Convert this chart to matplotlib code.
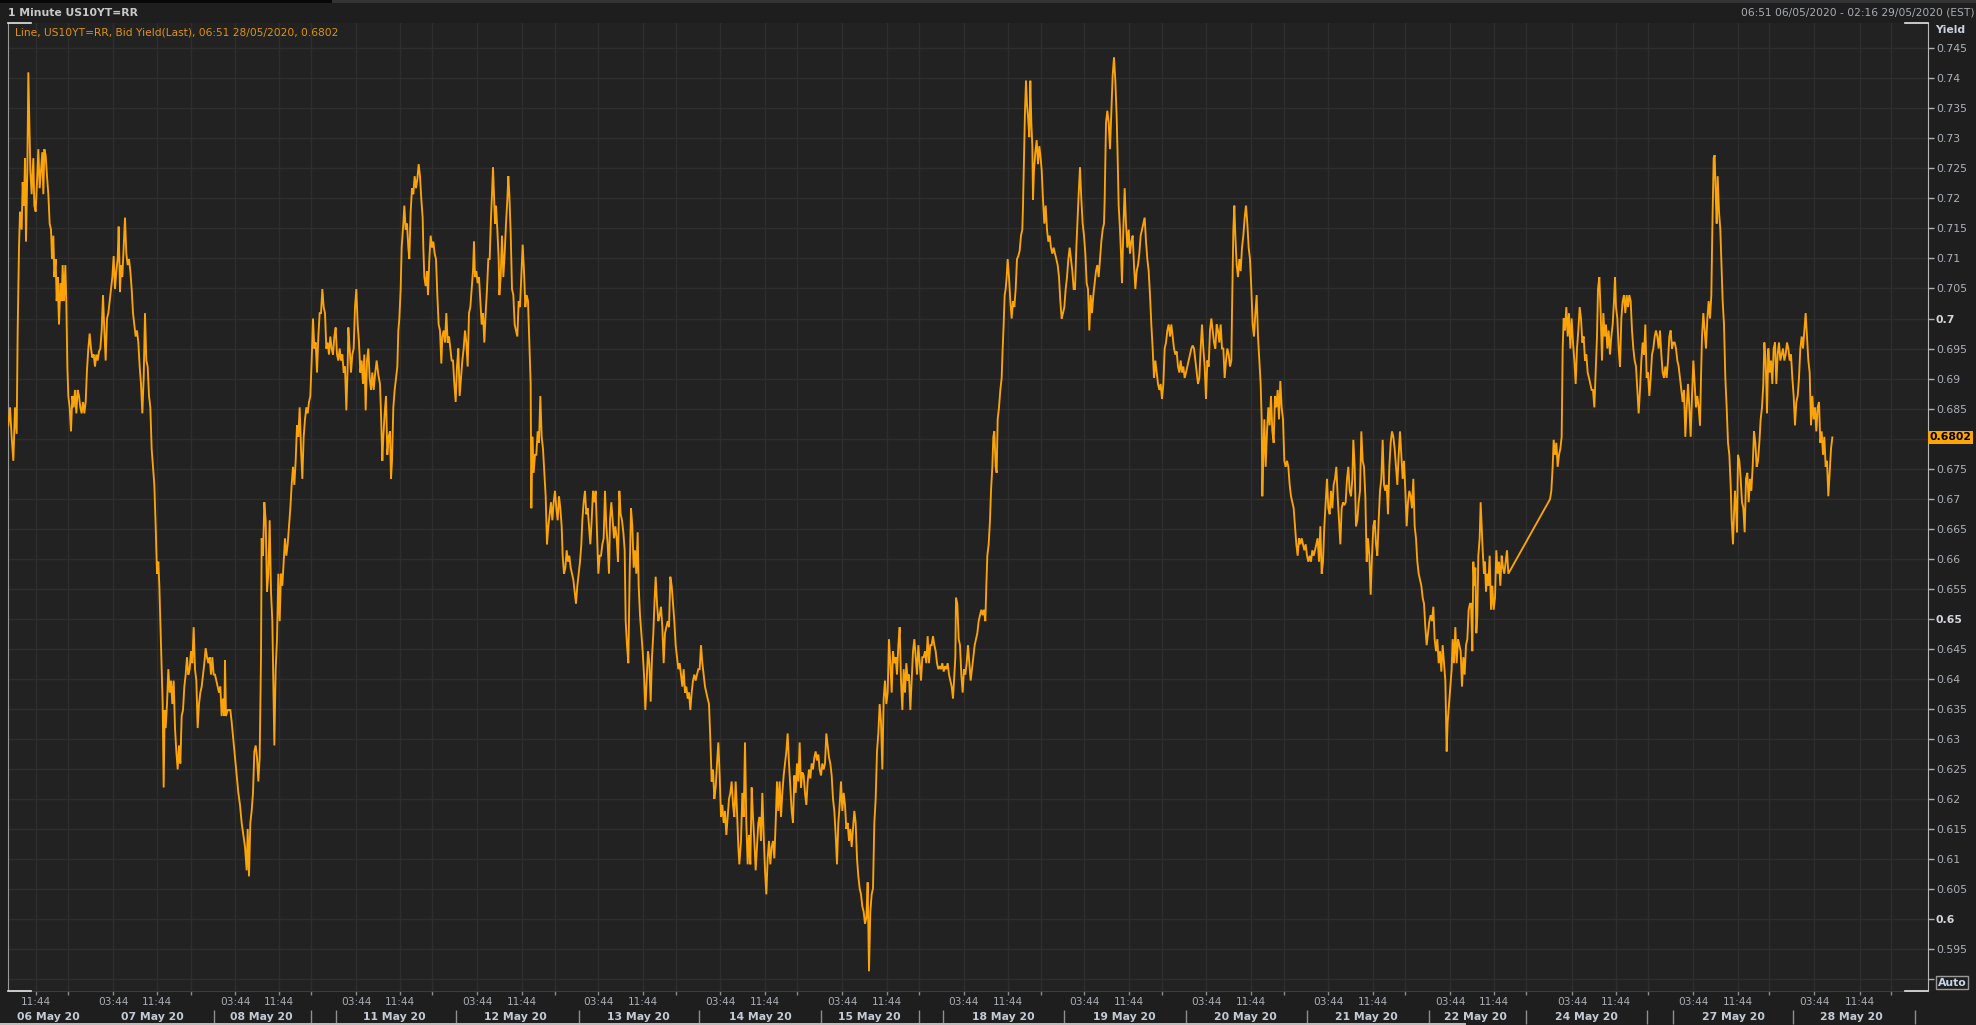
import matplotlib
matplotlib.use("Agg")
import matplotlib.pyplot as plt
import numpy as np
from matplotlib.transforms import blended_transform_factory
from matplotlib.patches import Rectangle

# ---------------- data: (session position, bid yield) ----------------
part_a = [(25,0.6822),(30,0.6852),(35,0.6803),(40,0.6763),(45,0.6852),(50,0.6808),(53,0.6980),(57,0.7118),(60,0.7178),(65,0.7148),(68,0.7227),(72,0.7188),(75,0.7267),(78,0.7128),(82,0.7247),(85,0.7410),(88,0.7326),(91,0.7247),(95,0.7207),(100,0.7267),(103,0.7188),(107,0.7178),(111,0.7227),(115,0.7282),(119,0.7217),(123,0.7247),(127,0.7277),(130,0.7207),(133,0.7282),(137,0.7272),(141,0.7237),(145,0.7207),(149,0.7158),(153,0.7148),(156,0.7099),(160,0.7138),(163,0.7069),(167,0.7099),(170,0.7029),(173,0.7069),(177,0.6990),(181,0.7059),(185,0.7029),(188,0.7089),(192,0.7029),(196,0.7089),(199,0.7029),(202,0.6920),(205,0.6871),(209,0.6852),(213,0.6812),(217,0.6871),(221,0.6852),(225,0.6881),(229,0.6842),(233,0.6881),(237,0.6871),(241,0.6852),(245,0.6842),(249,0.6861),(253,0.6842),(257,0.6861),(261,0.6915),(265,0.6950),(269,0.6975),(273,0.6950),(277,0.6935),(281,0.6940),(285,0.6920),(289,0.6940),(293,0.6930),(297,0.6945),(301,0.6950),(305,0.6980),(309,0.7039),(313,0.6980),(317,0.6930),(321,0.7000),(325,0.7009),(329,0.7029),(333,0.7049),(337,0.7069),(341,0.7104),(345,0.7049),(349,0.7079),(353,0.7099),(356,0.7153),(360,0.7044),(363,0.7089),(367,0.7069),(371,0.7118),(375,0.7168),(379,0.7108),(383,0.7089),(387,0.7099),(391,0.7079),(395,0.7049),(399,0.7009),(403,0.6990),(407,0.6970),(411,0.6980),(415,0.6960),(419,0.6920),(423,0.6891),(427,0.6842),(431,0.6901),(435,0.7009),(439,0.6930),(443,0.6920),(447,0.6871),(451,0.6852),(455,0.6783),(459,0.6753),(463,0.6723),(467,0.6654),(471,0.6575),(475,0.6595),(478,0.6555),(481,0.6496),(485,0.6416),(488,0.6358),(491,0.6219),(494,0.6348),(497,0.6318),(501,0.6358),(505,0.6416),(509,0.6377),(513,0.6397),(517,0.6358),(521,0.6397),(525,0.6318),(529,0.6279),(533,0.6249),(537,0.6289),(541,0.6259),(545,0.6338),(549,0.6348),(553,0.6387),(557,0.6407),(561,0.6436),(565,0.6407),(569,0.6416),(573,0.6446),(577,0.6426),(581,0.6486),(585,0.6416),(589,0.6397),(593,0.6318),(597,0.6358),(601,0.6377),(605,0.6387),(609,0.6407),(613,0.6426),(617,0.6451),(621,0.6436),(625,0.6426),(629,0.6436),(633,0.6407),(637,0.6436),(641,0.6407),(645,0.6407),(649,0.6397),(653,0.6387),(657,0.6377),(661,0.6387),(665,0.6338),(669,0.6367),(673,0.6338),(675,0.6431),(678,0.6338),(683,0.6348),(691,0.6348),(695,0.6328),(700,0.6299),(705,0.6269),(710,0.6239),(715,0.6210),(720,0.6190),(725,0.6160),(730,0.6140),(735,0.6120),(740,0.6081),(743,0.6150),(747,0.6071),(751,0.6160),(755,0.6180),(759,0.6210),(763,0.6279),(767,0.6289),(771,0.6269),(775,0.6229),(779,0.6269),(783,0.6436),(785,0.6634),(789,0.6605),(793,0.6694),(797,0.6664),(801,0.6545),(805,0.6575),(809,0.6664),(813,0.6545),(817,0.6496),(820,0.6387),(823,0.6289),(827,0.6416),(831,0.6466),(835,0.6575),(839,0.6496),(843,0.6575),(847,0.6555),(851,0.6595),(855,0.6634),(859,0.6605),(863,0.6624),(867,0.6654),(871,0.6684),(875,0.6723),(879,0.6753),(883,0.6723),(887,0.6763),(891,0.6822),(895,0.6803),(899,0.6852),(903,0.6783),(907,0.6733),(911,0.6803),(915,0.6832),(919,0.6852),(923,0.6842),(927,0.6861),(931,0.6871),(935,0.6930),(939,0.7000),(943,0.6950),(947,0.6960),(951,0.6910),(955,0.6970),(959,0.7009),(963,0.7009),(967,0.7049),(971,0.7019),(975,0.7009),(979,0.6950),(983,0.6960),(987,0.6940),(991,0.6970),(995,0.6950),(999,0.6940),(1003,0.6970),(1007,0.6985),(1011,0.6940),(1015,0.6930),(1019,0.6950),(1023,0.6930),(1027,0.6940),(1031,0.6910),(1035,0.6920),(1039,0.6847),(1043,0.6920),(1045,0.6985),(1049,0.6950),(1053,0.6910),(1057,0.6940),(1061,0.6950),(1065,0.7019),(1069,0.7049),(1073,0.6990),(1077,0.6960),(1081,0.6910),(1085,0.6930),(1089,0.6891),(1093,0.6940),(1097,0.6847),(1101,0.6930),(1105,0.6950),(1109,0.6901),(1113,0.6881),(1117,0.6910),(1121,0.6881),(1125,0.6906)]

part_b = [(1130,0.6930),(1135,0.6906),(1140,0.6891),(1143,0.6842),(1147,0.6763),(1150,0.6803),(1154,0.6842),(1158,0.6871),(1162,0.6773),(1166,0.6803),(1170,0.6812),(1173,0.6733),(1176,0.6763),(1180,0.6852),(1184,0.6881),(1188,0.6901),(1192,0.6920),(1195,0.6980),(1198,0.7000),(1202,0.7049),(1205,0.7118),(1210,0.7158),(1213,0.7188),(1217,0.7148),(1221,0.7158),(1225,0.7118),(1228,0.7099),(1232,0.7178),(1236,0.7217),(1240,0.7207),(1244,0.7237),(1248,0.7217),(1252,0.7232),(1256,0.7257),(1260,0.7237),(1264,0.7198),(1268,0.7168),(1270,0.7118),(1273,0.7069),(1277,0.7054),(1281,0.7079),(1284,0.7039),(1288,0.7099),(1292,0.7138),(1296,0.7118),(1300,0.7128),(1304,0.7108),(1308,0.7099),(1312,0.7039),(1316,0.6990),(1320,0.6980),(1324,0.6925),(1327,0.6970),(1331,0.6980),(1335,0.6960),(1339,0.7009),(1343,0.6960),(1347,0.6970),(1351,0.6950),(1355,0.6930),(1359,0.6930),(1363,0.6891),(1367,0.6861),(1371,0.6920),(1375,0.6950),(1379,0.6871),(1383,0.6901),(1387,0.6930),(1391,0.6950),(1395,0.6980),(1399,0.6960),(1403,0.6920),(1407,0.7009),(1411,0.7019),(1415,0.7049),(1419,0.7079),(1422,0.7128),(1425,0.7069),(1429,0.7079),(1433,0.7059),(1437,0.7069),(1441,0.7029),(1445,0.6990),(1449,0.7009),(1453,0.6960),(1457,0.7009),(1461,0.7049),(1465,0.7099),(1469,0.7099),(1473,0.7168),(1476,0.7207),(1479,0.7252),(1482,0.7207),(1485,0.7158),(1488,0.7188),(1492,0.7148),(1496,0.7099),(1498,0.7039),(1502,0.7069),(1506,0.7138),(1510,0.7069),(1514,0.7108),(1518,0.7158),(1522,0.7198),(1525,0.7237),(1528,0.7207),(1532,0.7143),(1536,0.7049),(1540,0.7039),(1544,0.6990),(1548,0.6980),(1552,0.6970),(1556,0.7029),(1560,0.7019),(1564,0.7069),(1568,0.7123),(1572,0.7079),(1576,0.7019),(1580,0.7039),(1584,0.7029),(1588,0.6960),(1592,0.6891),(1594,0.6684),(1597,0.6803),(1601,0.6743),(1605,0.6773),(1609,0.6773),(1613,0.6812),(1617,0.6793),(1621,0.6871),(1625,0.6803),(1629,0.6783),(1633,0.6743),(1637,0.6704),(1641,0.6624),(1645,0.6654),(1649,0.6674),(1653,0.6694),(1657,0.6664),(1661,0.6694),(1665,0.6713),(1669,0.6684),(1673,0.6664),(1677,0.6704),(1681,0.6684),(1685,0.6654),(1688,0.6605),(1692,0.6575),(1696,0.6585),(1700,0.6614),(1704,0.6595),(1708,0.6605),(1712,0.6585),(1716,0.6575),(1720,0.6565),(1724,0.6545),(1728,0.6525),(1732,0.6555),(1736,0.6575),(1740,0.6595),(1744,0.6624),(1747,0.6664),(1751,0.6694),(1755,0.6713),(1759,0.6674),(1763,0.6684),(1767,0.6654),(1771,0.6624),(1775,0.6664),(1779,0.6713),(1783,0.6694),(1787,0.6713),(1791,0.6644),(1795,0.6575),(1799,0.6605),(1803,0.6605),(1807,0.6624),(1811,0.6634),(1815,0.6713),(1819,0.6654),(1823,0.6624),(1827,0.6575),(1830,0.6664),(1834,0.6694),(1838,0.6664),(1842,0.6634),(1846,0.6654),(1850,0.6634),(1854,0.6595),(1858,0.6713),(1862,0.6674),(1866,0.6664),(1870,0.6644),(1874,0.6614),(1877,0.6496),(1881,0.6456),(1885,0.6426),(1889,0.6575),(1893,0.6684),(1897,0.6654),(1901,0.6585),(1905,0.6614),(1909,0.6575),(1913,0.6644),(1916,0.6555),(1920,0.6506),(1924,0.6476),(1928,0.6446),(1932,0.6407),(1936,0.6348),(1940,0.6397),(1944,0.6446),(1948,0.6426),(1952,0.6362),(1956,0.6436),(1960,0.6476),(1964,0.6535),(1967,0.6570),(1971,0.6525),(1975,0.6496),(1979,0.6506),(1983,0.6520),(1987,0.6486),(1991,0.6426),(1995,0.6476),(1999,0.6486),(2003,0.6496),(2007,0.6486),(2011,0.6570),(2015,0.6555),(2019,0.6525),(2023,0.6496),(2027,0.6456),(2031,0.6436),(2035,0.6416),(2039,0.6426),(2043,0.6407),(2047,0.6387),(2051,0.6416),(2055,0.6377),(2059,0.6387),(2063,0.6367),(2067,0.6377),(2071,0.6348),(2075,0.6377),(2079,0.6397),(2083,0.6407),(2087,0.6397),(2091,0.6407),(2095,0.6416),(2099,0.6416),(2103,0.6456),(2107,0.6426),(2111,0.6407),(2115,0.6387),(2119,0.6377),(2123,0.6367),(2127,0.6358),(2131,0.6299),(2135,0.6229),(2139,0.6249),(2143,0.6200),(2147,0.6219),(2151,0.6259),(2155,0.6294),(2159,0.6239),(2163,0.6170),(2167,0.6190),(2171,0.6160),(2175,0.6180),(2179,0.6140),(2183,0.6170),(2187,0.6200),(2191,0.6210),(2195,0.6229),(2199,0.6190),(2203,0.6170),(2207,0.6229),(2211,0.6180),(2215,0.6120),(2218,0.6091)]

part_c = [(2223,0.6130),(2227,0.6210),(2231,0.6170),(2235,0.6294),(2239,0.6160),(2243,0.6091),(2247,0.6140),(2251,0.6091),(2255,0.6219),(2259,0.6170),(2263,0.6130),(2267,0.6081),(2271,0.6120),(2275,0.6160),(2279,0.6170),(2283,0.6130),(2287,0.6210),(2291,0.6140),(2295,0.6081),(2299,0.6041),(2303,0.6101),(2307,0.6130),(2311,0.6091),(2315,0.6120),(2319,0.6130),(2323,0.6101),(2327,0.6160),(2331,0.6229),(2335,0.6180),(2339,0.6229),(2343,0.6170),(2347,0.6210),(2351,0.6239),(2355,0.6259),(2359,0.6279),(2363,0.6309),(2367,0.6259),(2371,0.6219),(2375,0.6180),(2379,0.6160),(2383,0.6239),(2387,0.6210),(2391,0.6259),(2395,0.6229),(2399,0.6294),(2403,0.6219),(2407,0.6244),(2411,0.6239),(2415,0.6210),(2419,0.6190),(2423,0.6229),(2427,0.6249),(2431,0.6234),(2435,0.6259),(2439,0.6249),(2443,0.6269),(2447,0.6279),(2451,0.6264),(2455,0.6274),(2459,0.6249),(2463,0.6239),(2467,0.6259),(2471,0.6249),(2475,0.6259),(2479,0.6309),(2483,0.6289),(2487,0.6269),(2491,0.6259),(2495,0.6239),(2499,0.6200),(2503,0.6180),(2507,0.6140),(2511,0.6091),(2515,0.6160),(2519,0.6190),(2523,0.6229),(2527,0.6180),(2531,0.6210),(2535,0.6190),(2539,0.6150),(2543,0.6160),(2547,0.6130),(2551,0.6150),(2555,0.6120),(2559,0.6150),(2563,0.6180),(2567,0.6160),(2571,0.6101),(2575,0.6071),(2579,0.6051),(2583,0.6041),(2587,0.6021),(2591,0.6012),(2595,0.5992),(2599,0.6002),(2603,0.6061),(2607,0.5913),(2611,0.6012),(2615,0.6041),(2619,0.6051),(2623,0.6160),(2627,0.6200),(2631,0.6279),(2635,0.6309),(2639,0.6358),(2643,0.6328),(2647,0.6249),(2651,0.6367),(2655,0.6397),(2659,0.6358),(2663,0.6377),(2667,0.6466),(2671,0.6426),(2675,0.6377),(2679,0.6446),(2683,0.6426),(2687,0.6436),(2691,0.6407),(2695,0.6456),(2699,0.6486),(2703,0.6397),(2707,0.6348),(2711,0.6416),(2715,0.6377),(2719,0.6426),(2723,0.6397),(2727,0.6407),(2731,0.6348),(2735,0.6397),(2739,0.6446),(2743,0.6466),(2747,0.6436),(2751,0.6407),(2755,0.6456),(2759,0.6426),(2763,0.6397),(2767,0.6436),(2771,0.6436),(2775,0.6446),(2779,0.6426),(2783,0.6471),(2787,0.6426),(2791,0.6456),(2795,0.6456),(2799,0.6471),(2803,0.6456),(2807,0.6446),(2811,0.6426),(2815,0.6416),(2819,0.6421),(2823,0.6416),(2827,0.6426),(2831,0.6412),(2835,0.6421),(2839,0.6416),(2843,0.6426),(2847,0.6407),(2851,0.6397),(2855,0.6387),(2859,0.6367),(2863,0.6407),(2866,0.6436),(2868,0.6535),(2872,0.6525),(2876,0.6466),(2880,0.6456),(2884,0.6407),(2888,0.6377),(2892,0.6416),(2896,0.6407),(2900,0.6426),(2904,0.6456),(2908,0.6426),(2912,0.6397),(2916,0.6416),(2920,0.6436),(2924,0.6456),(2928,0.6466),(2932,0.6476),(2936,0.6496),(2940,0.6506),(2944,0.6515),(2948,0.6506),(2952,0.6515),(2956,0.6496),(2959,0.6555),(2962,0.6605),(2966,0.6624),(2970,0.6664),(2973,0.6713),(2977,0.6753),(2980,0.6803),(2983,0.6812),(2987,0.6753),(2990,0.6743),(2993,0.6832),(2997,0.6852),(3001,0.6881),(3005,0.6901),(3008,0.6950),(3011,0.6990),(3014,0.7039),(3017,0.7049),(3020,0.7069),(3023,0.7099),(3027,0.7069),(3031,0.7029),(3035,0.7000),(3039,0.7029),(3043,0.7019),(3047,0.7049),(3051,0.7099),(3055,0.7104),(3059,0.7113),(3063,0.7138),(3067,0.7148),(3069,0.7188),(3072,0.7267),(3075,0.7346),(3078,0.7396),(3081,0.7356),(3084,0.7336),(3088,0.7302),(3091,0.7396),(3094,0.7326),(3097,0.7287),(3099,0.7198),(3102,0.7247),(3106,0.7277),(3110,0.7297),(3114,0.7257),(3118,0.7287),(3122,0.7267),(3125,0.7247),(3129,0.7198),(3133,0.7158),(3137,0.7188),(3141,0.7148),(3145,0.7128),(3149,0.7138),(3153,0.7118),(3157,0.7108),(3161,0.7118),(3165,0.7108),(3169,0.7099),(3173,0.7089),(3177,0.7069),(3181,0.7029),(3185,0.7000),(3189,0.7009),(3193,0.7019),(3197,0.7049),(3201,0.7069),(3205,0.7099),(3209,0.7118),(3213,0.7099),(3217,0.7079),(3221,0.7049),(3225,0.7049),(3229,0.7118),(3232,0.7158),(3236,0.7207),(3240,0.7252),(3244,0.7198),(3248,0.7158),(3252,0.7138),(3256,0.7108),(3260,0.7059),(3264,0.7049),(3268,0.6980),(3272,0.7039),(3276,0.7009),(3280,0.7039),(3284,0.7059),(3288,0.7079),(3292,0.7089),(3296,0.7069),(3300,0.7099),(3304,0.7128),(3308,0.7148),(3312,0.7158)]

part_d = [(3314,0.7198),(3318,0.7326),(3322,0.7346),(3326,0.7326),(3330,0.7282),(3334,0.7346),(3338,0.7405),(3342,0.7435),(3346,0.7396),(3350,0.7336),(3353,0.7267),(3356,0.7188),(3360,0.7148),(3363,0.7108),(3366,0.7059),(3370,0.7148),(3374,0.7217),(3378,0.7158),(3382,0.7118),(3386,0.7148),(3390,0.7108),(3394,0.7128),(3398,0.7138),(3402,0.7089),(3406,0.7049),(3410,0.7079),(3414,0.7089),(3418,0.7108),(3422,0.7138),(3426,0.7148),(3430,0.7158),(3434,0.7168),(3438,0.7128),(3442,0.7099),(3446,0.7079),(3450,0.7039),(3454,0.6990),(3458,0.6950),(3462,0.6901),(3466,0.6930),(3470,0.6910),(3474,0.6891),(3478,0.6881),(3482,0.6891),(3486,0.6866),(3490,0.6891),(3494,0.6950),(3498,0.6960),(3502,0.6980),(3506,0.6990),(3510,0.6970),(3514,0.6990),(3518,0.6970),(3522,0.6950),(3526,0.6940),(3530,0.6945),(3534,0.6920),(3538,0.6910),(3542,0.6930),(3546,0.6910),(3550,0.6920),(3554,0.6901),(3558,0.6910),(3562,0.6920),(3566,0.6930),(3570,0.6940),(3574,0.6950),(3578,0.6955),(3582,0.6950),(3586,0.6930),(3590,0.6910),(3594,0.6891),(3598,0.6901),(3602,0.6950),(3606,0.6990),(3610,0.6950),(3614,0.6920),(3618,0.6866),(3622,0.6930),(3626,0.6920),(3630,0.6980),(3634,0.7000),(3638,0.6980),(3642,0.6960),(3646,0.6950),(3650,0.6990),(3654,0.6980),(3658,0.6960),(3662,0.6990),(3666,0.6950),(3670,0.6950),(3674,0.6901),(3678,0.6930),(3682,0.6950),(3686,0.6940),(3690,0.6920),(3694,0.6930),(3696,0.7009),(3700,0.7148),(3703,0.7188),(3706,0.7138),(3710,0.7089),(3714,0.7069),(3718,0.7099),(3722,0.7079),(3726,0.7118),(3730,0.7138),(3734,0.7168),(3738,0.7188),(3742,0.7158),(3746,0.7118),(3750,0.7099),(3754,0.7049),(3758,0.6990),(3762,0.6970),(3766,0.7009),(3770,0.7039),(3774,0.6970),(3778,0.6930),(3782,0.6891),(3785,0.6832),(3787,0.6704),(3790,0.6773),(3793,0.6832),(3797,0.6753),(3801,0.6812),(3805,0.6852),(3809,0.6822),(3813,0.6871),(3817,0.6812),(3821,0.6793),(3825,0.6871),(3829,0.6852),(3833,0.6881),(3837,0.6832),(3841,0.6896),(3845,0.6852),(3849,0.6832),(3853,0.6763),(3857,0.6753),(3861,0.6763),(3865,0.6753),(3869,0.6723),(3873,0.6704),(3877,0.6694),(3881,0.6684),(3885,0.6654),(3889,0.6624),(3893,0.6605),(3897,0.6634),(3901,0.6624),(3905,0.6634),(3909,0.6624),(3913,0.6614),(3917,0.6624),(3921,0.6605),(3925,0.6595),(3929,0.6605),(3933,0.6595),(3937,0.6614),(3941,0.6605),(3945,0.6614),(3949,0.6624),(3953,0.6634),(3957,0.6595),(3961,0.6654),(3965,0.6575),(3969,0.6595),(3973,0.6654),(3977,0.6694),(3981,0.6733),(3985,0.6684),(3989,0.6674),(3993,0.6713),(3997,0.6684),(4001,0.6723),(4005,0.6733),(4009,0.6753),(4013,0.6704),(4017,0.6664),(4021,0.6624),(4025,0.6684),(4029,0.6694),(4033,0.6689),(4037,0.6694),(4041,0.6733),(4045,0.6753),(4049,0.6713),(4053,0.6704),(4057,0.6733),(4060,0.6798),(4064,0.6753),(4068,0.6654),(4072,0.6664),(4076,0.6694),(4080,0.6713),(4084,0.6812),(4088,0.6763),(4092,0.6753),(4096,0.6704),(4100,0.6595),(4104,0.6634),(4108,0.6605),(4112,0.6540),(4116,0.6605),(4120,0.6654),(4124,0.6664),(4128,0.6624),(4132,0.6605),(4136,0.6664),(4140,0.6713),(4144,0.6733),(4148,0.6798),(4152,0.6723),(4156,0.6713),(4160,0.6723),(4164,0.6674),(4168,0.6753),(4172,0.6793),(4176,0.6812),(4180,0.6803),(4184,0.6783),(4188,0.6753),(4192,0.6723),(4196,0.6773),(4200,0.6812),(4204,0.6773),(4208,0.6733),(4212,0.6763),(4216,0.6713),(4220,0.6654),(4224,0.6694),(4228,0.6713),(4232,0.6704),(4236,0.6684),(4240,0.6733),(4244,0.6654),(4248,0.6634),(4252,0.6595),(4256,0.6575),(4260,0.6565),(4264,0.6555),(4268,0.6535),(4272,0.6525),(4276,0.6486),(4280,0.6456),(4284,0.6476),(4288,0.6496),(4292,0.6506),(4296,0.6496),(4300,0.6520),(4304,0.6466),(4308,0.6446),(4312,0.6466),(4316,0.6426),(4320,0.6446),(4324,0.6412),(4328,0.6456),(4332,0.6426),(4336,0.6397),(4340,0.6279),(4343,0.6328),(4347,0.6358),(4351,0.6387),(4355,0.6416),(4358,0.6466),(4362,0.6426),(4366,0.6486),(4370,0.6426),(4374,0.6466),(4378,0.6456),(4382,0.6446),(4386,0.6387),(4390,0.6436),(4394,0.6407),(4398,0.6456),(4402,0.6466),(4406,0.6515),(4410,0.6525)]

part_e = [(4413,0.6525),(4417,0.6446),(4420,0.6595),(4423,0.6555),(4426,0.6585),(4429,0.6476),(4432,0.6506),(4435,0.6605),(4439,0.6634),(4442,0.6694),(4445,0.6654),(4448,0.6614),(4452,0.6575),(4455,0.6595),(4458,0.6545),(4462,0.6575),(4465,0.6555),(4469,0.6605),(4473,0.6515),(4477,0.6555),(4481,0.6515),(4485,0.6535),(4489,0.6614),(4493,0.6575),(4497,0.6595),(4501,0.6555),(4505,0.6605),(4509,0.6585),(4513,0.6575),(4517,0.6595),(4521,0.6614),(4525,0.6575),(4650,0.6699),(4654,0.6713),(4658,0.6753),(4661,0.6798),(4665,0.6773),(4669,0.6793),(4673,0.6753),(4677,0.6773),(4681,0.6783),(4685,0.6803),(4688,0.6950),(4691,0.7000),(4695,0.6980),(4699,0.7019),(4703,0.6970),(4707,0.7009),(4711,0.6950),(4715,0.7000),(4719,0.6960),(4723,0.6930),(4727,0.6891),(4731,0.6950),(4735,0.6980),(4739,0.7019),(4743,0.7000),(4747,0.6960),(4751,0.6970),(4755,0.6930),(4759,0.6940),(4763,0.6910),(4767,0.6901),(4771,0.6891),(4775,0.6881),(4779,0.6881),(4783,0.6852),(4787,0.6910),(4791,0.6970),(4794,0.7049),(4798,0.7069),(4802,0.7009),(4806,0.6930),(4810,0.7009),(4814,0.6970),(4818,0.6990),(4822,0.6950),(4826,0.6980),(4830,0.6940),(4834,0.6970),(4838,0.6990),(4842,0.7029),(4845,0.7069),(4848,0.7019),(4852,0.7000),(4856,0.6950),(4860,0.6920),(4864,0.7000),(4868,0.7029),(4872,0.7039),(4876,0.7009),(4880,0.7039),(4884,0.7019),(4888,0.7039),(4892,0.7029),(4896,0.6980),(4900,0.6950),(4904,0.6930),(4908,0.6920),(4912,0.6881),(4916,0.6842),(4920,0.6881),(4924,0.6930),(4928,0.6960),(4932,0.6940),(4936,0.6990),(4940,0.6901),(4944,0.6910),(4948,0.6871),(4952,0.6901),(4956,0.6940),(4960,0.6950),(4964,0.6970),(4968,0.6980),(4972,0.6970),(4976,0.6950),(4980,0.6980),(4984,0.6940),(4988,0.6910),(4992,0.6901),(4996,0.6920),(5000,0.6901),(5004,0.6930),(5008,0.6970),(5012,0.6980),(5016,0.6950),(5020,0.6960),(5024,0.6960),(5028,0.6950),(5032,0.6930),(5036,0.6920),(5040,0.6901),(5044,0.6881),(5048,0.6861),(5052,0.6881),(5056,0.6803),(5060,0.6852),(5064,0.6891),(5068,0.6852),(5072,0.6803),(5076,0.6871),(5080,0.6930),(5084,0.6891),(5088,0.6852),(5092,0.6871),(5096,0.6852),(5100,0.6822),(5103,0.6901),(5106,0.6970),(5110,0.7009),(5114,0.6980),(5118,0.6950),(5122,0.7000),(5126,0.7029),(5130,0.7000),(5134,0.7039),(5137,0.7148),(5141,0.7267),(5144,0.7272),(5147,0.7207),(5150,0.7158),(5153,0.7237),(5157,0.7178),(5161,0.7148),(5165,0.7079),(5168,0.7029),(5172,0.6990),(5176,0.6901),(5180,0.6852),(5184,0.6793),(5188,0.6773),(5192,0.6723),(5195,0.6664),(5199,0.6624),(5202,0.6674),(5205,0.6713),(5208,0.6684),(5211,0.6644),(5214,0.6773),(5218,0.6763),(5222,0.6733),(5226,0.6694),(5230,0.6684),(5234,0.6644),(5238,0.6733),(5242,0.6743),(5246,0.6694),(5250,0.6733),(5254,0.6713),(5258,0.6753),(5262,0.6812),(5266,0.6793),(5270,0.6753),(5274,0.6763),(5278,0.6793),(5282,0.6832),(5286,0.6852),(5290,0.6891),(5293,0.6960),(5297,0.6930),(5301,0.6842),(5305,0.6950),(5309,0.6910),(5313,0.6930),(5317,0.6891),(5321,0.6950),(5325,0.6960),(5329,0.6891),(5333,0.6940),(5337,0.6960),(5341,0.6930),(5345,0.6940),(5349,0.6950),(5353,0.6930),(5357,0.6940),(5361,0.6960),(5365,0.6950),(5369,0.6930),(5373,0.6940),(5377,0.6901),(5381,0.6871),(5385,0.6822),(5389,0.6861),(5393,0.6871),(5397,0.6901),(5401,0.6950),(5405,0.6970),(5409,0.6950),(5413,0.6980),(5417,0.7009),(5421,0.6970),(5425,0.6930),(5429,0.6910),(5433,0.6822),(5437,0.6871),(5441,0.6832),(5445,0.6852),(5449,0.6812),(5453,0.6852),(5457,0.6861),(5461,0.6793),(5465,0.6812),(5469,0.6773),(5473,0.6803),(5477,0.6753),(5481,0.6763),(5485,0.6704),(5489,0.6743),(5493,0.6783),(5497,0.6802)]

last_value = 0.6802

# x axis: session positions of time ticks (labelled and unlabelled)
tick_pos = [107, 204, 339, 471, 573, 705, 837, 933, 1068, 1201, 1296, 1431, 1566, 1665,
            1795, 1929, 2028, 2161, 2295, 2392, 2526, 2660, 2757, 2891, 3024, 3123, 3253,
            3388, 3486, 3618, 3753, 3852, 3984, 4119, 4215, 4350, 4483, 4578, 4716, 4849,
            4944, 5079, 5214, 5307, 5442, 5580, 5673]
tick_lab = ["11:44", "", "03:44", "11:44", "", "03:44", "11:44", "", "03:44", "11:44", "",
            "03:44", "11:44", "", "03:44", "11:44", "", "03:44", "11:44", "", "03:44", "11:44",
            "", "03:44", "11:44", "", "03:44", "11:44", "", "03:44", "11:44", "", "03:44",
            "11:44", "", "03:44", "11:44", "", "03:44", "11:44", "", "03:44", "11:44", "",
            "03:44", "11:44", ""]
day_sep = [642, 933, 1007, 1368, 1737, 2096, 2464, 2756, 2830, 3191, 3557, 3921, 4286,
           4577, 4942, 5018, 5379, 5745]
day_ctr = [144, 456, 783, 1182, 1545, 1914, 2280, 2607, 3009, 3372, 3735, 4098, 4425,
           4758, 5199, 5553]
day_lab = ["06 May 20", "07 May 20", "08 May 20", "11 May 20", "12 May 20", "13 May 20",
           "14 May 20", "15 May 20", "18 May 20", "19 May 20", "20 May 20", "21 May 20",
           "22 May 20", "24 May 20", "27 May 20", "28 May 20"]
y_grid = [round(0.59 + 0.005 * i, 3) for i in range(32)]

# ---------------- figure ----------------
W, H = 1976, 1025
BG = "#1e1e1e"
fig = plt.figure(figsize=(W / 100, H / 100), dpi=100, facecolor=BG)
L, R, T, B = 7.5, 1927.5, 22.7, 990.7
ax = fig.add_axes([L / W, 1 - B / H, (R - L) / W, (B - T) / H])
ax.set_facecolor("#222222")

parts = [part_a, part_b, part_c, part_d, part_e]
t = [p[0] for part in parts for p in part]
y = [p[1] for part in parts for p in part]
ax.plot(t, y, color="#fba40a", lw=1.35, solid_joinstyle="miter", zorder=3)

ax.set_xlim(22.5, 5782.5)
ax.set_ylim(0.58806, 0.74926)

# grid
ax.set_xticks(tick_pos)
ax.set_xticklabels([""] * len(tick_pos))
ax.set_yticks(y_grid)
ylabels = []
for v in y_grid:
    if v in (0.59, 0.68):
        ylabels.append("")
    else:
        s = f"{v:.3f}".rstrip("0").rstrip(".")
        ylabels.append(s)
ax.set_yticklabels(ylabels)
ax.grid(True, color="#2e2e2e", lw=1.0, zorder=0)
ax.set_axisbelow(True)

ax.yaxis.tick_right()
ax.tick_params(axis="y", length=4.5, width=1, color="#b0b0b0", pad=1.5,
               labelsize=7.8, labelcolor="#aeb2b8")
ax.tick_params(axis="x", length=3, width=1, color="#8c8c8c", direction="out")
for lab in ax.get_yticklabels():
    if lab.get_text() in ("0.7", "0.65", "0.6"):
        lab.set_fontweight("bold")
        lab.set_color("#d4d6da")

ax.spines["top"].set_visible(False)
ax.spines["bottom"].set_color("#3c3c3c")
ax.spines["left"].set_color("#9a9a9a")
ax.spines["right"].set_color("#b8b8b8")

# corner accents
cx = 23 / (R - L)
for (x0, x1, yy) in [(0, cx, 1), (1 - cx, 1, 1), (0, cx, 0), (1 - cx, 1, 0)]:
    ax.plot([x0, x1], [yy, yy], transform=ax.transAxes, color="#e6e6e6", lw=1.2,
            clip_on=False, zorder=5)

bt = blended_transform_factory(ax.transData, ax.transAxes)
for pos, lab in zip(tick_pos, tick_lab):
    if lab:
        ax.text(pos, -(1002.3 - B) / (B - T), lab, transform=bt, ha="center", va="center",
                fontsize=7.6, color="#a9adb3", clip_on=False)
for pos, lab in zip(day_ctr, day_lab):
    ax.text(pos, -(1016.7 - B) / (B - T), lab, transform=bt, ha="center", va="center",
            fontsize=7.8, fontweight="bold", color="#c4cad4", clip_on=False)
ax.vlines(day_sep, -(1009.5 - B) / (B - T), -(1024 - B) / (B - T), transform=bt,
          colors="#8e8e8e", lw=1, clip_on=False)

# last value tag
by = blended_transform_factory(ax.transAxes, ax.transData)
ax.text(1.0008, last_value, "0.6802", transform=by, ha="left", va="center",
        fontsize=7.8, fontweight="bold", color="#000000", clip_on=False, zorder=6,
        bbox=dict(boxstyle="square,pad=0.14", fc="#ffa500", ec="none"))

# header texts
fig.text(8.3 / W, 1 - 12.7 / H, "1 Minute US10YT=RR", fontsize=7.8, fontweight="bold",
         color="#c8c8c8", ha="left", va="center")
fig.text(1974 / W, 1 - 12.7 / H, "06:51 06/05/2020 - 02:16 29/05/2020 (EST)", fontsize=7.7,
         color="#a8acb2", ha="right", va="center")
fig.text(15 / W, 1 - 32.3 / H, "Line, US10YT=RR, Bid Yield(Last), 06:51 28/05/2020, 0.6802",
         fontsize=7.7, color="#e3930d", ha="left", va="center")
fig.text(1935 / W, 1 - 30 / H, "Yield", fontsize=7.8, fontweight="bold", color="#c8d0dc",
         ha="left", va="center")
fig.text(1937.5 / W, 1 - 982.6 / H, "Auto", fontsize=7.8, fontweight="bold", color="#c8d4e8",
         ha="left", va="center",
         bbox=dict(boxstyle="square,pad=0.12", fc=BG, ec="#9a9a9a", lw=1))

# top bar and bottom scrollbar
fig.add_artist(Rectangle((0, 1 - 2.5 / H), 332 / W, 2.5 / H, transform=fig.transFigure,
                         fc="#070707", ec="none"))
fig.add_artist(Rectangle((332 / W, 1 - 2.5 / H), 1 - 332 / W, 2.5 / H, transform=fig.transFigure,
                         fc="#333333", ec="none"))
fig.add_artist(Rectangle((0, 0), 1466 / W, 2.5 / H, transform=fig.transFigure,
                         fc="#bdbdbd", ec="none"))

fig.savefig("out.png", dpi=100, facecolor=BG)
